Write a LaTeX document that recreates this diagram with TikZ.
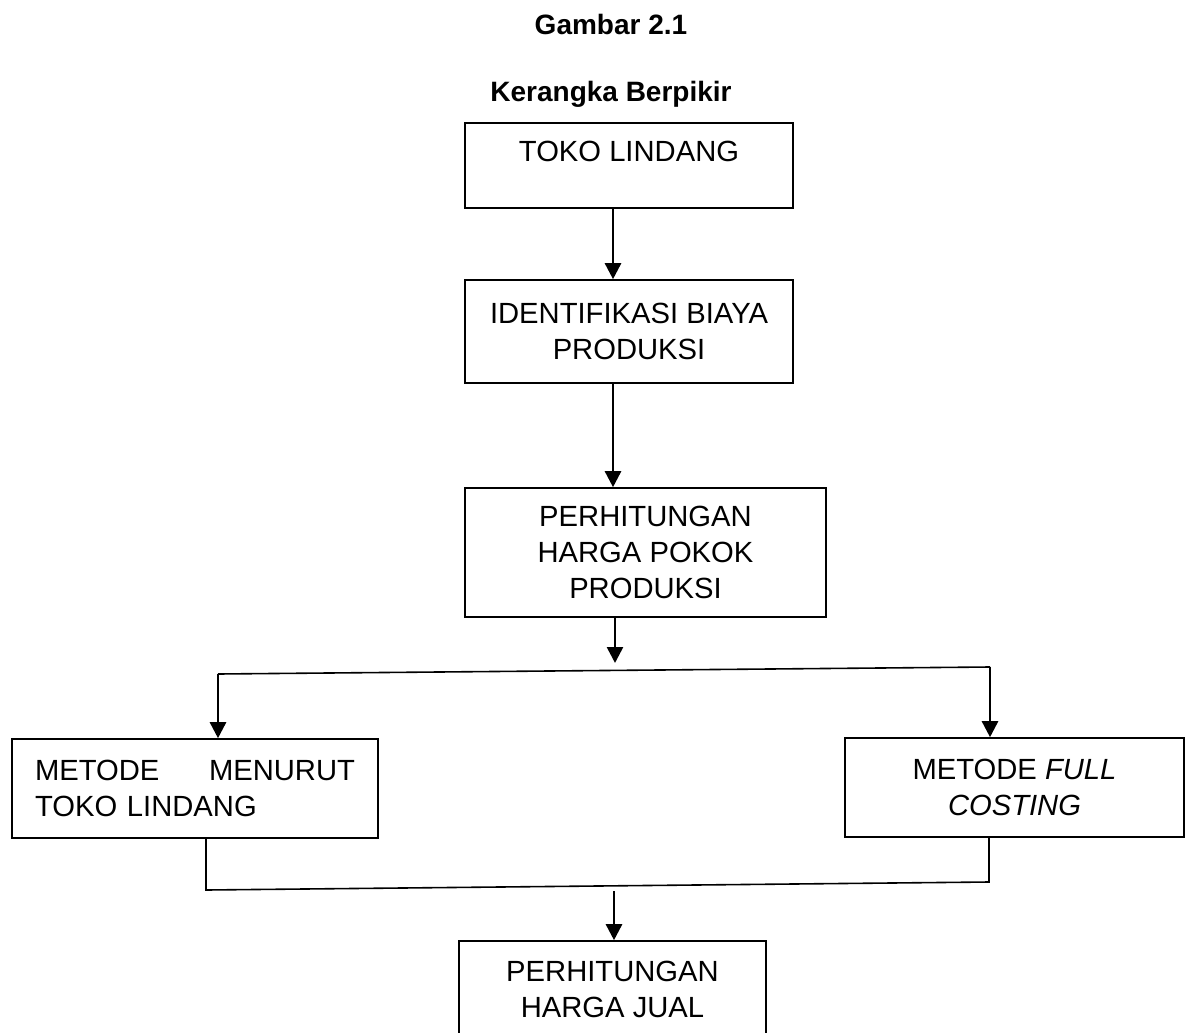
\documentclass[tikz,border=0pt]{standalone}
\usepackage{fontspec}
\setmainfont{Liberation Sans}
\usepackage{tikz}
\usetikzlibrary{arrows.meta, positioning}

\begin{document}
\begin{tikzpicture}[x=0.5pt, y=-0.5pt,
    box/.style={draw, rectangle, line width=0.8pt, font=\fontsize{14.6}{18}\selectfont},
    arr/.style={-{Triangle[width=8pt, length=8pt]}, line width=1.3pt},
    link/.style={line width=0.8pt}]
    \fontsize{14}{18}\selectfont
    \useasboundingbox (0,0) rectangle (1187,1032);

    % Titles
    \node (title) [anchor=base, font=\bfseries] at (611,35) {Gambar 2.1};
    \node (subtitle) [anchor=base, font=\bfseries] at (611,102) {Kerangka Berpikir};

    % Nodes for the main chain
    \node (toko) [box, inner sep=0pt, minimum width=164pt, text height=19.5pt, text depth=23pt] at (629,165.5) {TOKO LINDANG};
    \node (identifikasi) [box, align=center, minimum width=164pt, minimum height=51.5pt] at (629,331.5) {IDENTIFIKASI BIAYA\\PRODUKSI};
    \node (hpp) [box, align=center, minimum width=180.5pt, minimum height=64.5pt] at (645.5,552.5) {PERHITUNGAN\\HARGA POKOK\\PRODUKSI};

    % Nodes for the two methods
    \node (metodeToko) [box, align=left, text width=160pt, minimum width=183pt, minimum height=49.5pt] at (195,788.5) {METODE\hfill MENURUT\\TOKO LINDANG};
    \node (metodeFull) [box, align=center, minimum width=169.5pt, minimum height=49.5pt] at (1014.5,787.5) {METODE \textit{FULL}\\\textit{COSTING}};

    % Final node
    \node (hargaJual) [box, align=center, minimum width=153.5pt, minimum height=48pt] at (612.5,989) {PERHITUNGAN\\HARGA JUAL};

    % Helper coordinates for the branch lines
    \coordinate (c1) at (613,0);
    \coordinate (c3) at (615,0);
    \coordinate (split) at (615,663);
    \coordinate (tl) at (218,674);
    \coordinate (tr) at (990,667);
    \coordinate (bl) at (206,890);
    \coordinate (br) at (989,882);
    \coordinate (merge) at (614,891);

    % Arrows down the chain
    \draw[arr] (toko.south -| c1) -- (identifikasi.north -| c1);
    \draw[arr] (identifikasi.south -| c1) -- (hpp.north -| c1);
    \draw[arr] (hpp.south -| c3) -- (split);

    % Branch to the methods
    \draw[link] (tl) -- (tr);
    \draw[arr] (tl) -- (metodeToko.north -| tl);
    \draw[arr] (tr) -- (metodeFull.north -| tr);

    % Join to the selling price
    \draw[link] (metodeToko.south -| bl) -- (bl) -- (br) -- (metodeFull.south -| br);
    \draw[arr] (merge) -- (hargaJual.north -| merge);

\end{tikzpicture}
\end{document}
